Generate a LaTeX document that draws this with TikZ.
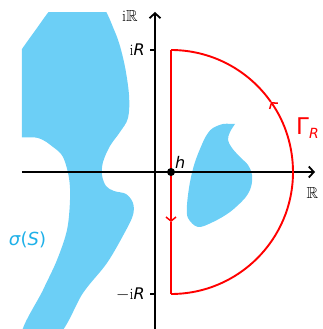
\documentclass[tikz,border=0pt]{standalone}
\usepackage{amssymb}
\usepackage{fontspec}
\setsansfont{DejaVu Sans}
\usetikzlibrary{arrows.meta}

\definecolor{specfill}{RGB}{108,207,246}
\definecolor{speclabel}{RGB}{30,176,232}
\newcommand{\sfR}{\textsf{\textit{R}}}

\tikzset{
  axis/.style={line width=2pt, -{Straight Barb[length=5pt,width=11pt,line width=1.8pt]}},
  tick/.style={line width=2pt},
  contour/.style={line width=1.9pt, red},
  midtip/.style={-{Straight Barb[length=4pt,width=10pt,line width=1.5pt]}},
  spectrum/.style={fill=specfill, draw=none},
  lbl/.style={font=\fontsize{16}{18}\selectfont, inner sep=0pt}
}

\begin{document}
\begin{tikzpicture}[x=1pt, y=1pt]
\useasboundingbox (-155,-157) rectangle (167,172);
\begin{scope}
\clip (-133,-157) rectangle (167,159);
\fill[spectrum] plot[smooth cycle, tension=0.55] coordinates {
  (-150,92) (-118,144) (-93,172) (-58,172) (-40,140) (-31,110) (-26,77)
  (-27,54) (-35,40) (-45,26) (-52,10) (-53,-3) (-49,-14) (-41,-19) (-29,-22)
  (-22,-31) (-22,-43) (-30,-60) (-48,-91) (-72,-121) (-97,-163) (-133,-163)
  (-112,-118) (-98,-88) (-88,-58) (-85,-28) (-86,-6) (-92,15) (-102,25)
  (-117,34) (-150,40)};
\end{scope}
\fill[spectrum] plot[smooth, tension=0.55] coordinates {
  (80,48) (75,40) (73,32) (77,24) (85,15) (93,7) (97,-3) (96,-15) (90,-26)
  (75,-40) (58,-50) (43,-55) (33,-46) (32,-33) (35,-10) (40,10) (48,30)
  (53,39) (58,44) (68,48) (80,48)};
\coordinate (O) at (0,0);
\coordinate (xend) at (160,0);
\coordinate (yend) at (0,160);
\coordinate (h) at (16,0);
\coordinate (top) at (16,122);
\coordinate (bot) at (16,-122);
\coordinate (arcmid) at ([shift={(16,0)}]35:122);
\draw[axis] (-133,0) -- (xend);
\draw[axis] (0,-157) -- (yend);
\draw[tick] (-5,122) -- (1,122);
\draw[tick] (-5,-122) -- (1,-122);
\draw[contour, midtip] (top) -- (16,-50);
\draw[contour] (16,-50) -- (bot);
\draw[contour, midtip] (bot) arc[start angle=-90, end angle=35, radius=122];
\draw[contour] (arcmid) arc[start angle=35, end angle=90, radius=122] -- (top);
\fill (h) circle[radius=4];
\node[lbl, anchor=east] (iRR) at (-17,156) {$\mathrm{i}\mathbb{R}$};
\node[lbl, anchor=east] (iR) at (-10,122) {$\mathrm{i}$\sfR};
\node[lbl, anchor=east] (miR) at (-10,-122) {$-\mathrm{i}$\sfR};
\node[lbl] (RR) at (157.5,-21) {$\mathbb{R}$};
\node[lbl, anchor=south west] (hlbl) at (20,3) {\textsf{\textit{h}}};
\node[red, inner sep=0pt, anchor=base west] (Gamma) at (141,37)
  {\fontsize{23}{25}\selectfont\textsf{Γ}\raisebox{-4pt}{\fontsize{14}{16}\selectfont\sfR}};
\node[speclabel, inner sep=0pt, font=\fontsize{18}{20}\selectfont] (sigma) at (-127.5,-68) {\textsf{\textit{σ}(\textit{S})}};
\end{tikzpicture}
\end{document}
